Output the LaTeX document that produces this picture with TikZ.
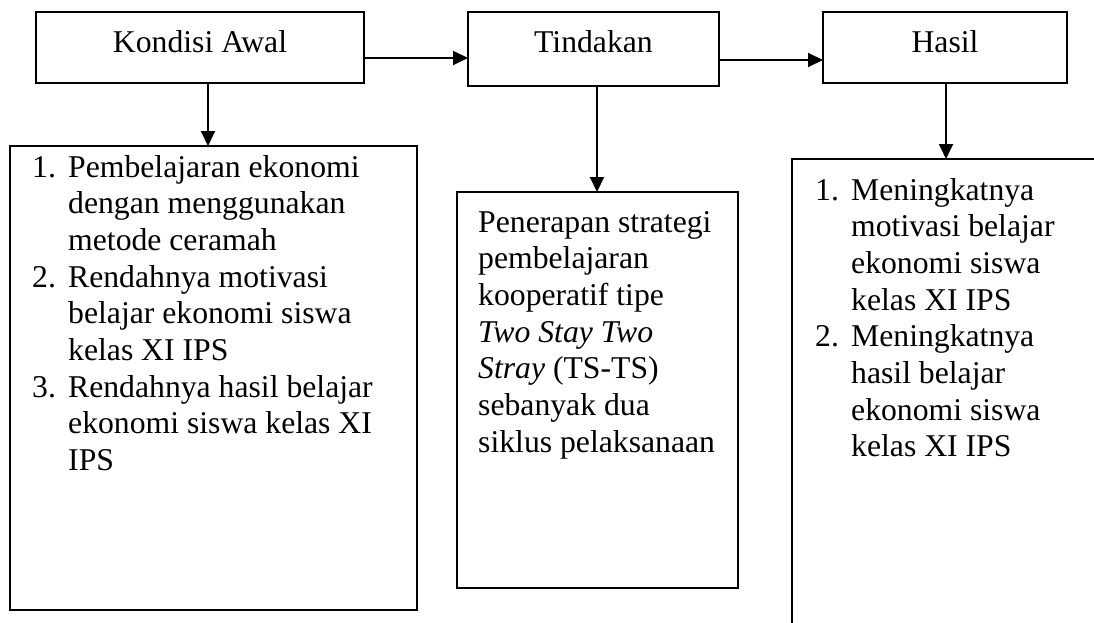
\documentclass[tikz,border=0pt]{standalone}
\usepackage{fontspec}
\setmainfont{Liberation Serif}
\usetikzlibrary{arrows.meta}
\begin{document}
\begin{tikzpicture}[x=1pt,y=-1pt,
  box/.style={draw=black, line width=1.7pt, inner sep=0pt, outer sep=0pt, fill=none},
  topbox/.style={box, font=\fontsize{31.7}{36.7}\selectfont},
  arr/.style={-{Triangle[length=15pt,width=14pt]}, line width=1.9pt},
  txt/.style={inner sep=0pt, anchor=base west, font=\fontsize{31.7}{36.7}\selectfont}]
\useasboundingbox (0,0) rectangle (1094,623);
\clip (0,0) rectangle (1094,623);
\fill[white] (0,0) rectangle (1094,623);
% top boxes
\node[topbox, minimum width=328pt, minimum height=71pt, text height=22pt, text depth=11pt] (ka) at (200,47.5) {Kondisi Awal};
\node[topbox, minimum width=251pt, minimum height=74pt, text height=22pt, text depth=14pt] (ti) at (593.5,49) {Tindakan};
\node[topbox, minimum width=244pt, minimum height=71pt, text height=22pt, text depth=11pt] (ha) at (945,47.5) {Hasil};
% lower boxes
\node[box, anchor=north west, minimum width=407pt, minimum height=464pt] (lb) at (10,146) {};
\node[box, anchor=north west, minimum width=281pt, minimum height=396pt] (mb) at (457,192) {};
\node[box, anchor=north west, minimum width=400pt, minimum height=520pt] (rb) at (792,159) {};
% texts
\node[txt] (lt) at (32,177) {\begin{tabular}[t]{@{}p{36pt}@{}l@{}}
1. & Pembelajaran ekonomi\\
   & dengan menggunakan\\
   & metode ceramah\\
2. & Rendahnya motivasi\\
   & belajar ekonomi siswa\\
   & kelas XI IPS\\
3. & Rendahnya hasil belajar\\
   & ekonomi siswa kelas XI\\
   & IPS
\end{tabular}};
\node[txt] (mt) at (478,232) {\begin{tabular}[t]{@{}l@{}}
Penerapan strategi\\
pembelajaran\\
kooperatif tipe\\
\textit{Two Stay Two}\\
\textit{Stray} (TS-TS)\\
sebanyak dua\\
siklus pelaksanaan
\end{tabular}};
\node[txt] (rt) at (815,200) {\begin{tabular}[t]{@{}p{36pt}@{}l@{}}
1. & Meningkatnya\\
   & motivasi belajar\\
   & ekonomi siswa\\
   & kelas XI IPS\\
2. & Meningkatnya\\
   & hasil belajar\\
   & ekonomi siswa\\
   & kelas XI IPS
\end{tabular}};
% connectors
\draw[arr] (ka.east |- 0,58) -- (ti.west |- 0,58);
\draw[arr] (ti.east |- 0,60) -- (ha.west |- 0,60);
\draw[arr] (ka.south -| 208,0) -- (lb.north -| 208,0);
\draw[arr] (ti.south -| 597,0) -- (mb.north -| 597,0);
\draw[arr] (ha.south -| 946,0) -- (rb.north -| 946,0);
\end{tikzpicture}
\end{document}
